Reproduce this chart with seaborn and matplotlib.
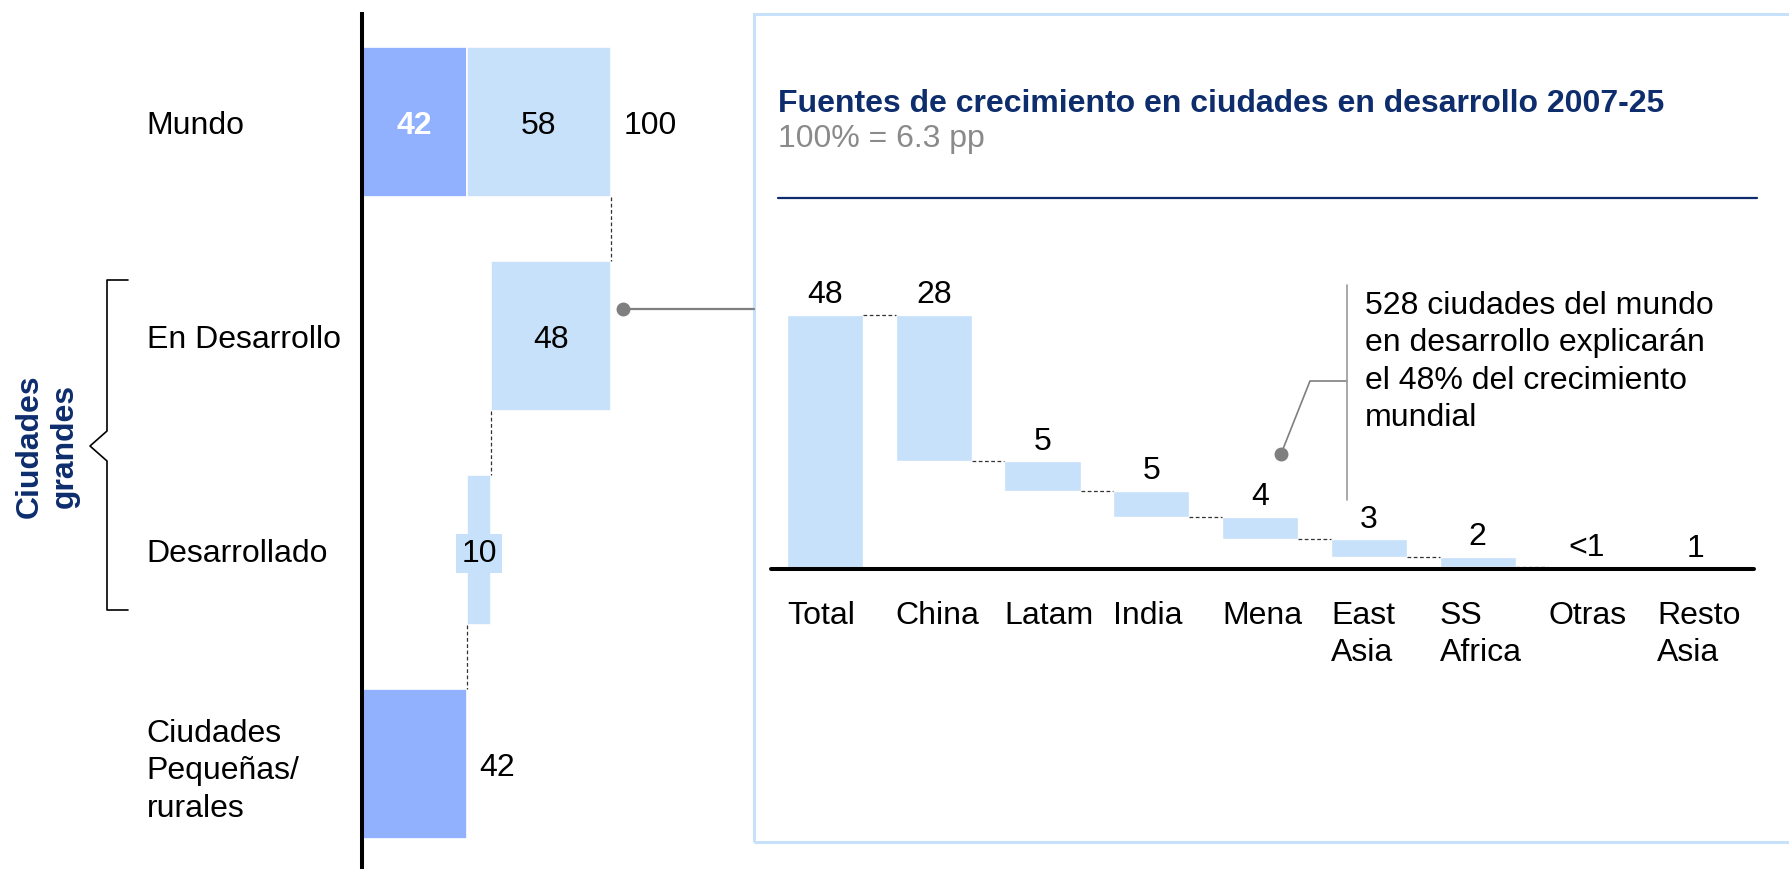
import numpy as np
import pandas as pd
import matplotlib.pyplot as plt
import seaborn as sns
from matplotlib.lines import Line2D
from matplotlib.patches import Rectangle

# ---- data ----
filas = ['Mundo', 'En Desarrollo', 'Desarrollado', 'Ciudades\nPequeñas/\nrurales']
mundo_total = 100
mundo_pequenas = 42
mundo_grandes = 58
grandes_desarrollo = 48
grandes_desarrollado = 10
pequenas_rurales = 42

regiones = ['Total', 'China', 'Latam', 'India', 'Mena', 'East\nAsia', 'SS\nAfrica', 'Otras', 'Resto\nAsia']
aporte = [48, 27.7, 5.6, 4.9, 4.2, 3.3, 2.0, 0.2, 0.1]
etiquetas = ['48', '28', '5', '5', '4', '3', '2', '<1', '1']

titulo = 'Fuentes de crecimiento en ciudades en desarrollo 2007-25'
subtitulo = '100% = 6.3 pp'
nota = '528 ciudades del mundo\nen desarrollo explicarán\nel 48% del crecimiento\nmundial'

# ---- style ----
OSCURO = '#91B1FF'
CLARO = '#C7E1FA'
NAVY = '#0E2D6D'
GRIS = '#8A8A8A'
FS = 23
LS = 1.32
W, H = 1789, 869

sns.set_style('white')
plt.rcParams['font.family'] = ['Liberation Sans', 'DejaVu Sans']
plt.rcParams['text.color'] = 'black'
plt.rcParams['xtick.color'] = 'black'
plt.rcParams['ytick.color'] = 'black'

fig = plt.figure(figsize=(W / 100, H / 100), dpi=100)


def px_axes(x0, y0, x1, y1):
    return fig.add_axes([x0 / W, 1 - y1 / H, (x1 - x0) / W, (y1 - y0) / H])


def fx(x):
    return x / W


def fy(y):
    return 1 - y / H


# ---- left panel: floating horizontal bars ----
inicio_desarrollo = mundo_total - grandes_desarrollo
inicio_desarrollado = inicio_desarrollo - grandes_desarrollado
seg = pd.DataFrame({
    'fila': [filas[0], filas[0], filas[1], filas[2], filas[3]],
    'inicio': [0, mundo_pequenas, inicio_desarrollo, inicio_desarrollado, 0],
    'valor': [mundo_pequenas, mundo_grandes, grandes_desarrollo, grandes_desarrollado, pequenas_rurales],
    'tipo': ['p', 'g', 'g', 'g', 'p'],
})

axl = px_axes(362, 14, 362 + 2.49 * 140, 869)
axl.set_facecolor('none')
for tipo, col in [('p', OSCURO), ('g', CLARO)]:
    sub = seg[seg['tipo'] == tipo]
    sns.barplot(data=sub, x='valor', y='fila', order=filas, orient='h',
                left=sub['inicio'].values, color=col, saturation=1, width=0.70,
                edgecolor='white', linewidth=1.2, ax=axl)

axl.set_xlim(0, 140)
axl.set_ylim(3.49, -0.505)
axl.set_xlabel('')
axl.set_ylabel('')
axl.set_xticks([])
axl.set_yticks(range(len(filas)), filas, ha='left', va='center_baseline', fontsize=FS,
               multialignment='left', linespacing=LS)
axl.tick_params(axis='y', length=0, pad=155)
for s in ['top', 'right', 'bottom']:
    axl.spines[s].set_visible(False)
axl.spines['left'].set_color('black')
axl.spines['left'].set_linewidth(2.9)

# labels
axl.text(mundo_pequenas / 2, 0, str(mundo_pequenas), color='white', fontweight='bold',
         ha='center', va='center_baseline', fontsize=FS)
axl.text(mundo_pequenas + mundo_grandes / 2, 0, str(mundo_grandes),
         ha='center', va='center_baseline', fontsize=FS)
axl.annotate(str(mundo_total), (mundo_total, 0), xytext=(9, 0), textcoords='offset points',
             ha='left', va='center_baseline', fontsize=FS)
axl.text(inicio_desarrollo + grandes_desarrollo / 2, 1, str(grandes_desarrollo),
         ha='center', va='center_baseline', fontsize=FS)
axl.text(inicio_desarrollado + grandes_desarrollado / 2, 2, str(grandes_desarrollado),
         ha='center', va='center_baseline', fontsize=FS,
         bbox=dict(boxstyle='square,pad=0.15', fc=CLARO, ec='none'))
axl.annotate(str(pequenas_rurales), (pequenas_rurales, 3), xytext=(9, 0), textcoords='offset points',
             ha='left', va='center_baseline', fontsize=FS)

# dashed connectors
for x, r in [(mundo_total, 0), (inicio_desarrollo, 1), (inicio_desarrollado, 2)]:
    axl.plot([x, x], [r + 0.35, r + 0.65], color='#333333', lw=0.9, ls=(0, (3, 2)))

# ---- right panel: waterfall ----
base = [0] + list(aporte[0] - np.cumsum(aporte[1:]))
wf = pd.DataFrame({'region': regiones, 'valor': aporte, 'base': base})
tope = wf['base'] + wf['valor']

axr = px_axes(771, 240, 1754, 569)
axr.set_facecolor('none')
sns.barplot(data=wf, x='region', y='valor', bottom=wf['base'].values, color=CLARO,
            saturation=1, width=0.70, edgecolor='white', linewidth=1, ax=axr)
axr.set_xlim(-0.496, 8.539)
axr.set_ylim(0, 62.1)
axr.set_xlabel('')
axr.set_ylabel('')
axr.set_yticks([])
pos = np.arange(len(regiones))
axr.set_xticks(pos - 0.35, regiones, ha='left', va='top', fontsize=FS,
               multialignment='left', linespacing=LS)
axr.tick_params(axis='x', length=0, pad=23)
for s in ['top', 'right', 'left']:
    axr.spines[s].set_visible(False)
axr.spines['bottom'].set_color('black')
axr.spines['bottom'].set_linewidth(2.9)
axr.spines['bottom'].set_capstyle('round')

for i, (t, lab) in enumerate(zip(tope, etiquetas)):
    axr.annotate(lab, (i, t), xytext=(0, 8.5), textcoords='offset points',
                 ha='center', va='baseline', fontsize=FS)

for i in range(len(regiones) - 1):
    lvl = tope[i + 1]
    axr.plot([i + 0.35, i + 0.65], [lvl, lvl], color='#333333', lw=0.9, ls=(0, (3, 2)))

# ---- annotations in figure space ----
fig.add_artist(Rectangle((fx(754), fy(842)), fx(1100), fy(14) - fy(842), transform=fig.transFigure,
                         fill=False, ec=CLARO, lw=2.2))
fig.text(fx(778), fy(100), titulo, color=NAVY, fontweight='bold', fontsize=FS, ha='left',
         va='center_baseline')
fig.text(fx(778), fy(135), subtitulo, color=GRIS, fontsize=FS, ha='left', va='center_baseline')
fig.add_artist(Line2D([fx(778), fx(1757)], [fy(198), fy(198)], color=NAVY, lw=1.6))

# connection from left bar to box
fig.add_artist(Line2D([fx(623), fx(754)], [fy(309), fy(309)], color='#7F7F7F', lw=1.6))
fig.add_artist(Line2D([fx(623)], [fy(309)], marker='o', ms=9, color='#7F7F7F', lw=0))

# callout
fig.add_artist(Line2D([fx(1281), fx(1310), fx(1347)], [fy(454), fy(381), fy(381)], color='#7F7F7F', lw=1.2))
fig.add_artist(Line2D([fx(1281)], [fy(454)], marker='o', ms=9, color='#7F7F7F', lw=0))
fig.add_artist(Line2D([fx(1347), fx(1347)], [fy(285), fy(500)], color='#9A9A9A', lw=1.2))
fig.text(fx(1365), fy(291), nota, fontsize=FS, ha='left', va='top', linespacing=LS)

# brace + rotated label
fig.add_artist(Line2D([fx(128), fx(107), fx(107), fx(90), fx(107), fx(107), fx(128)],
                      [fy(280), fy(280), fy(431), fy(446), fy(461), fy(610), fy(610)],
                      color='black', lw=1.2))
fig.text(fx(47), fy(446), 'Ciudades\ngrandes', rotation=90, color=NAVY, fontweight='bold',
         fontsize=FS, ha='center', va='center', multialignment='center', linespacing=1.2)

fig.savefig('out.png', dpi=100)
